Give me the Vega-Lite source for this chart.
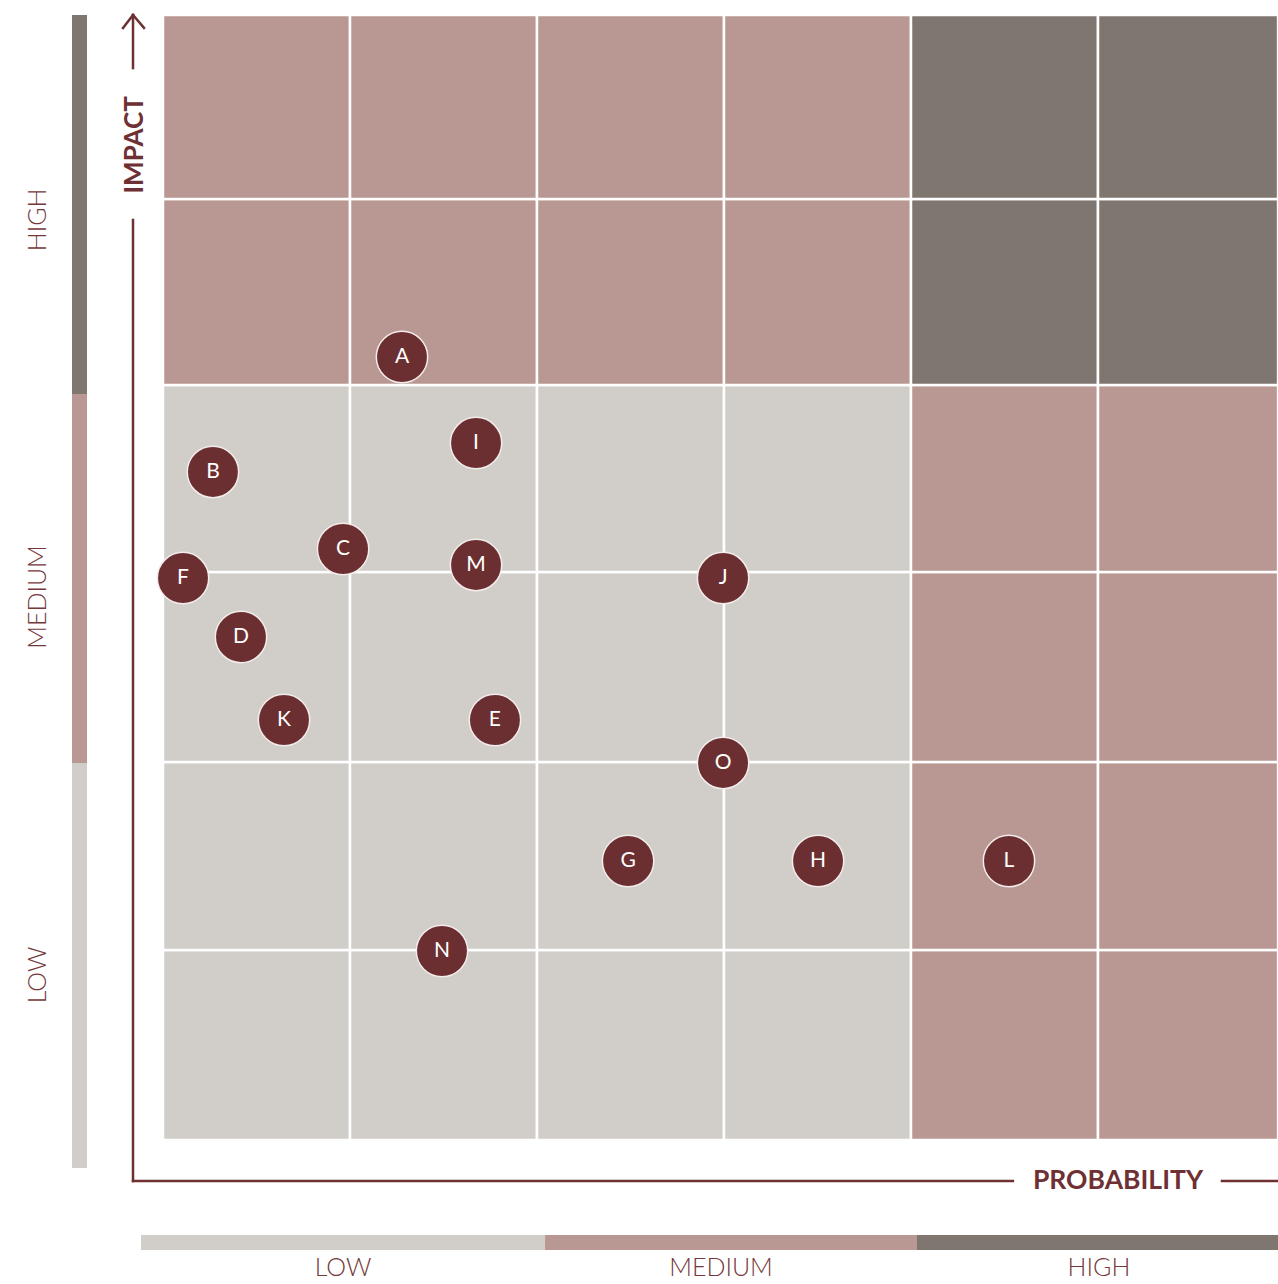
{
  "$schema": "https://vega.github.io/schema/vega-lite/v6.json",
  "width": 1278,
  "height": 1284,
  "padding": 0,
  "autosize": {"type": "none"},
  "background": "#ffffff",
  "config": {"view": {"stroke": null}},
  "datasets": {
    "cells": [
      {"col": 1, "row": 1, "x0": 0, "x1": 1, "y0": 0, "y1": 1.013, "zone": "low"},
      {"col": 2, "row": 1, "x0": 1, "x1": 2, "y0": 0, "y1": 1.013, "zone": "low"},
      {"col": 3, "row": 1, "x0": 2, "x1": 3, "y0": 0, "y1": 1.013, "zone": "low"},
      {"col": 4, "row": 1, "x0": 3, "x1": 4, "y0": 0, "y1": 1.013, "zone": "low"},
      {"col": 5, "row": 1, "x0": 4, "x1": 5, "y0": 0, "y1": 1.013, "zone": "medium"},
      {"col": 6, "row": 1, "x0": 5, "x1": 5.963, "y0": 0, "y1": 1.013, "zone": "medium"},
      {"col": 1, "row": 2, "x0": 0, "x1": 1, "y0": 1.013, "y1": 2.016, "zone": "low"},
      {"col": 2, "row": 2, "x0": 1, "x1": 2, "y0": 1.013, "y1": 2.016, "zone": "low"},
      {"col": 3, "row": 2, "x0": 2, "x1": 3, "y0": 1.013, "y1": 2.016, "zone": "low"},
      {"col": 4, "row": 2, "x0": 3, "x1": 4, "y0": 1.013, "y1": 2.016, "zone": "low"},
      {"col": 5, "row": 2, "x0": 4, "x1": 5, "y0": 1.013, "y1": 2.016, "zone": "medium"},
      {"col": 6, "row": 2, "x0": 5, "x1": 5.963, "y0": 1.013, "y1": 2.016, "zone": "medium"},
      {"col": 1, "row": 3, "x0": 0, "x1": 1, "y0": 2.016, "y1": 3.029, "zone": "low"},
      {"col": 2, "row": 3, "x0": 1, "x1": 2, "y0": 2.016, "y1": 3.029, "zone": "low"},
      {"col": 3, "row": 3, "x0": 2, "x1": 3, "y0": 2.016, "y1": 3.029, "zone": "low"},
      {"col": 4, "row": 3, "x0": 3, "x1": 4, "y0": 2.016, "y1": 3.029, "zone": "low"},
      {"col": 5, "row": 3, "x0": 4, "x1": 5, "y0": 2.016, "y1": 3.029, "zone": "medium"},
      {"col": 6, "row": 3, "x0": 5, "x1": 5.963, "y0": 2.016, "y1": 3.029, "zone": "medium"},
      {"col": 1, "row": 4, "x0": 0, "x1": 1, "y0": 3.029, "y1": 4.027, "zone": "low"},
      {"col": 2, "row": 4, "x0": 1, "x1": 2, "y0": 3.029, "y1": 4.027, "zone": "low"},
      {"col": 3, "row": 4, "x0": 2, "x1": 3, "y0": 3.029, "y1": 4.027, "zone": "low"},
      {"col": 4, "row": 4, "x0": 3, "x1": 4, "y0": 3.029, "y1": 4.027, "zone": "low"},
      {"col": 5, "row": 4, "x0": 4, "x1": 5, "y0": 3.029, "y1": 4.027, "zone": "medium"},
      {"col": 6, "row": 4, "x0": 5, "x1": 5.963, "y0": 3.029, "y1": 4.027, "zone": "medium"},
      {"col": 1, "row": 5, "x0": 0, "x1": 1, "y0": 4.027, "y1": 5.019, "zone": "medium"},
      {"col": 2, "row": 5, "x0": 1, "x1": 2, "y0": 4.027, "y1": 5.019, "zone": "medium"},
      {"col": 3, "row": 5, "x0": 2, "x1": 3, "y0": 4.027, "y1": 5.019, "zone": "medium"},
      {"col": 4, "row": 5, "x0": 3, "x1": 4, "y0": 4.027, "y1": 5.019, "zone": "medium"},
      {"col": 5, "row": 5, "x0": 4, "x1": 5, "y0": 4.027, "y1": 5.019, "zone": "high"},
      {"col": 6, "row": 5, "x0": 5, "x1": 5.963, "y0": 4.027, "y1": 5.019, "zone": "high"},
      {"col": 1, "row": 6, "x0": 0, "x1": 1, "y0": 5.019, "y1": 6.0, "zone": "medium"},
      {"col": 2, "row": 6, "x0": 1, "x1": 2, "y0": 5.019, "y1": 6.0, "zone": "medium"},
      {"col": 3, "row": 6, "x0": 2, "x1": 3, "y0": 5.019, "y1": 6.0, "zone": "medium"},
      {"col": 4, "row": 6, "x0": 3, "x1": 4, "y0": 5.019, "y1": 6.0, "zone": "medium"},
      {"col": 5, "row": 6, "x0": 4, "x1": 5, "y0": 5.019, "y1": 6.0, "zone": "high"},
      {"col": 6, "row": 6, "x0": 5, "x1": 5.963, "y0": 5.019, "y1": 6.0, "zone": "high"}
    ],
    "bars": [
      {"axis": "impact", "x0": -0.4866, "x1": -0.4064, "y0": 3.979, "y1": 6.0, "zone": "high"},
      {"axis": "impact", "x0": -0.4866, "x1": -0.4064, "y0": 2.011, "y1": 3.979, "zone": "medium"},
      {"axis": "impact", "x0": -0.4866, "x1": -0.4064, "y0": -0.149, "y1": 2.011, "zone": "low"},
      {"axis": "probability", "x0": -0.1176, "x1": 2.043, "y0": -0.587, "y1": -0.507, "zone": "low"},
      {"axis": "probability", "x0": 2.043, "x1": 4.032, "y0": -0.587, "y1": -0.507, "zone": "medium"},
      {"axis": "probability", "x0": 4.032, "x1": 5.963, "y0": -0.587, "y1": -0.507, "zone": "high"}
    ],
    "lines": [
      {"part": "impact axis", "x0": -0.1604, "y0": -0.2187, "x1": -0.1604, "y1": 4.907},
      {"part": "impact axis top", "x0": -0.1604, "y0": 5.717, "x1": -0.1604, "y1": 6.0},
      {"part": "arrow left", "x0": -0.2139, "y0": 5.931, "x1": -0.1604, "y1": 6.0},
      {"part": "arrow right", "x0": -0.1016, "y0": 5.931, "x1": -0.1604, "y1": 6.0},
      {"part": "probability axis", "x0": -0.1604, "y0": -0.2187, "x1": 4.545, "y1": -0.2187},
      {"part": "probability axis end", "x0": 5.663, "y0": -0.2187, "x1": 5.963, "y1": -0.2187}
    ],
    "risks": [
      {"risk": "A", "probability": 1.278, "impact": 4.176},
      {"risk": "B", "probability": 0.267, "impact": 3.563},
      {"risk": "C", "probability": 0.963, "impact": 3.152},
      {"risk": "D", "probability": 0.417, "impact": 2.683},
      {"risk": "E", "probability": 1.775, "impact": 2.24},
      {"risk": "F", "probability": 0.107, "impact": 2.997},
      {"risk": "G", "probability": 2.487, "impact": 1.488},
      {"risk": "H", "probability": 3.503, "impact": 1.488},
      {"risk": "I", "probability": 1.674, "impact": 3.717},
      {"risk": "J", "probability": 2.995, "impact": 2.997},
      {"risk": "K", "probability": 0.647, "impact": 2.24},
      {"risk": "L", "probability": 4.524, "impact": 1.488},
      {"risk": "M", "probability": 1.674, "impact": 3.067},
      {"risk": "N", "probability": 1.492, "impact": 1.008},
      {"risk": "O", "probability": 2.995, "impact": 2.011}
    ],
    "impactLevels": [
      {"label": "HIGH", "x": -0.668, "y": 4.907},
      {"label": "MEDIUM", "x": -0.668, "y": 2.896},
      {"label": "LOW", "x": -0.668, "y": 0.88}
    ],
    "probLevels": [
      {"label": "LOW", "x": 0.9626, "y": -0.727},
      {"label": "MEDIUM", "x": 2.984, "y": -0.727},
      {"label": "HIGH", "x": 5.005, "y": -0.727}
    ],
    "impactTitle": [{"label": "IMPACT", "x": -0.1497, "y": 5.307}],
    "probTitle": [{"label": "PROBABILITY", "x": 5.107, "y": -0.2187}]
  },
  "layer": [
    {
      "data": {"name": "cells"},
      "mark": {"type": "rect", "stroke": "#ffffff", "strokeWidth": 2.5},
      "encoding": {
        "x": {"field": "x0", "type": "quantitative", "scale": {"domain": [-0.8717, 5.9626], "nice": false, "zero": false}, "axis": null},
        "x2": {"field": "x1"},
        "y": {"field": "y0", "type": "quantitative", "scale": {"domain": [-0.768, 6.08], "nice": false, "zero": false}, "axis": null},
        "y2": {"field": "y1"},
        "color": {"field": "zone", "type": "nominal", "scale": {"domain": ["low", "medium", "high"], "range": ["#D1CEC9", "#B99792", "#7F7670"]}, "legend": null}
      }
    },
    {
      "data": {"name": "bars"},
      "mark": {"type": "rect"},
      "encoding": {
        "x": {"field": "x0", "type": "quantitative", "axis": null},
        "x2": {"field": "x1"},
        "y": {"field": "y0", "type": "quantitative", "axis": null},
        "y2": {"field": "y1"},
        "color": {"field": "zone", "type": "nominal", "legend": null}
      }
    },
    {
      "data": {"name": "lines"},
      "mark": {"type": "rule", "color": "#6E3033", "strokeWidth": 2.5, "strokeCap": "square"},
      "encoding": {
        "x": {"field": "x0", "type": "quantitative", "axis": null},
        "x2": {"field": "x1"},
        "y": {"field": "y0", "type": "quantitative", "axis": null},
        "y2": {"field": "y1"}
      }
    },
    {
      "data": {"name": "risks"},
      "mark": {"type": "circle", "size": 2640, "fill": "#6B2F31", "opacity": 1, "fillOpacity": 1, "stroke": "#F3ECEB", "strokeWidth": 1.5},
      "encoding": {
        "x": {"field": "probability", "type": "quantitative", "axis": null},
        "y": {"field": "impact", "type": "quantitative", "axis": null}
      }
    },
    {
      "data": {"name": "risks"},
      "mark": {"type": "text", "color": "#ffffff", "font": "Lato", "fontSize": 21, "align": "center", "baseline": "middle"},
      "encoding": {
        "x": {"field": "probability", "type": "quantitative", "axis": null},
        "y": {"field": "impact", "type": "quantitative", "axis": null},
        "text": {"field": "risk"}
      }
    },
    {
      "data": {"name": "impactLevels"},
      "mark": {"type": "text", "color": "#74383A", "font": "Lato", "fontWeight": 300, "fontSize": 25, "angle": 270, "align": "center", "baseline": "middle"},
      "encoding": {
        "x": {"field": "x", "type": "quantitative", "axis": null},
        "y": {"field": "y", "type": "quantitative", "axis": null},
        "text": {"field": "label"}
      }
    },
    {
      "data": {"name": "probLevels"},
      "mark": {"type": "text", "color": "#74383A", "font": "Lato", "fontWeight": 300, "fontSize": 25, "align": "center", "baseline": "alphabetic"},
      "encoding": {
        "x": {"field": "x", "type": "quantitative", "axis": null},
        "y": {"field": "y", "type": "quantitative", "axis": null},
        "text": {"field": "label"}
      }
    },
    {
      "data": {"name": "impactTitle"},
      "mark": {"type": "text", "color": "#6E3033", "font": "Lato", "fontWeight": "bold", "fontSize": 26, "angle": 270, "align": "center", "baseline": "middle"},
      "encoding": {
        "x": {"field": "x", "type": "quantitative", "axis": null},
        "y": {"field": "y", "type": "quantitative", "axis": null},
        "text": {"field": "label"}
      }
    },
    {
      "data": {"name": "probTitle"},
      "mark": {"type": "text", "color": "#6E3033", "font": "Lato", "fontWeight": "bold", "fontSize": 26.5, "align": "center", "baseline": "middle"},
      "encoding": {
        "x": {"field": "x", "type": "quantitative", "axis": null},
        "y": {"field": "y", "type": "quantitative", "axis": null},
        "text": {"field": "label"}
      }
    }
  ]
}
